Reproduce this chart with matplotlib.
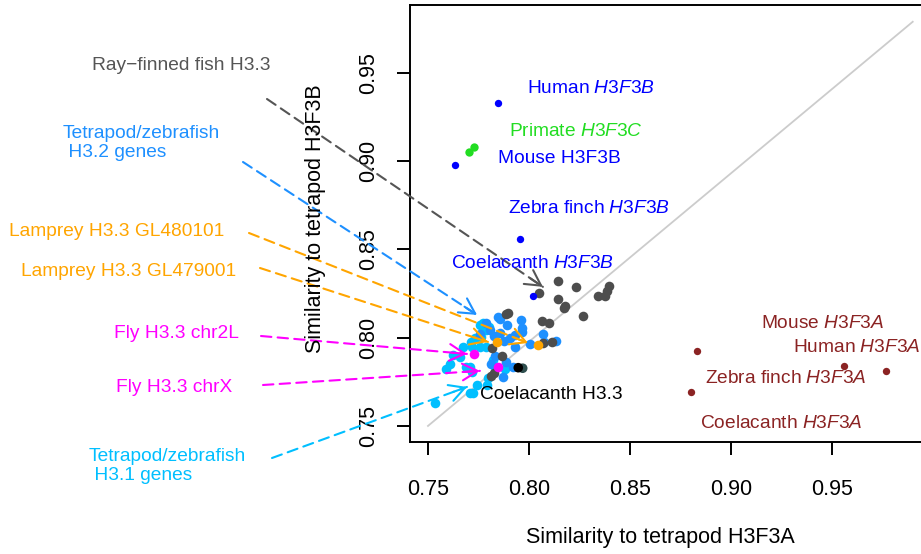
import numpy as np
import matplotlib
matplotlib.use("Agg")
import matplotlib.pyplot as plt

plt.rcParams['font.family'] = ['Liberation Sans', 'DejaVu Sans']
plt.rcParams['mathtext.fontset'] = 'custom'
plt.rcParams['mathtext.rm'] = 'Liberation Sans'
plt.rcParams['mathtext.it'] = 'Liberation Sans:italic'

# ---------------- data ----------------
# Tetrapod/zebrafish H3.1 genes (deepskyblue)
h31_x = [0.7774, 0.7787, 0.7761, 0.7733, 0.7711, 0.7675, 0.7716, 0.7757, 0.7787,
         0.7625, 0.7609, 0.7589, 0.7658, 0.7688, 0.7708, 0.7716, 0.7744, 0.7799,
         0.7791, 0.7708, 0.7724, 0.7535, 0.7832, 0.7881, 0.7823, 0.7800, 0.7760]
h31_y = [0.8082, 0.8044, 0.8006, 0.7997, 0.7978, 0.7950, 0.7946, 0.7950, 0.7946,
         0.7903, 0.7852, 0.7822, 0.7893, 0.7836, 0.7836, 0.7808, 0.7732, 0.7770,
         0.7732, 0.7685, 0.7685, 0.7632, 0.7836, 0.7821, 0.7874, 0.8060, 0.8070]
# Tetrapod/zebrafish H3.2 genes (dodgerblue)
h32_x = [0.7845, 0.7856, 0.7890, 0.7959, 0.7964, 0.7931, 0.7906, 0.7931, 0.8005,
         0.8071, 0.8074, 0.8134, 0.7787, 0.7807, 0.7856, 0.7876, 0.7757, 0.7828,
         0.7922, 0.7810, 0.7832, 0.7886, 0.7873, 0.7964]
h32_y = [0.8120, 0.8105, 0.8073, 0.8101, 0.8035, 0.8016, 0.7997, 0.7950, 0.7965,
         0.8022, 0.7978, 0.7982, 0.8082, 0.8044, 0.8026, 0.7984, 0.8022, 0.8010,
         0.7836, 0.7851, 0.7897, 0.7865, 0.7780, 0.8054]
# Ray-finned fish H3.3 (dark gray)
fish_x = [0.8050, 0.8142, 0.8233, 0.8142, 0.8178, 0.8174, 0.8266, 0.8343, 0.8376,
          0.8385, 0.8398, 0.8066, 0.8101, 0.7886, 0.7898, 0.8116, 0.8071, 0.7815,
          0.7868, 0.7828, 0.7812]
fish_y = [0.8252, 0.8322, 0.8290, 0.8220, 0.8180, 0.8167, 0.8125, 0.8238, 0.8238,
          0.8267, 0.8295, 0.8097, 0.8085, 0.8135, 0.8140, 0.7974, 0.7972, 0.7944,
          0.7897, 0.7802, 0.7783]
# Lamprey H3.3 (orange)
lamprey_x = [0.7843, 0.8043]
lamprey_y = [0.7974, 0.7959]
# Fly H3.3 (magenta)
fly_x = [0.7729, 0.7848]
fly_y = [0.7906, 0.7833]
# Coelacanth H3.3 (black) and neighbour (dark slate)
coel33_x = [0.7969, 0.7947]
coel33_y = [0.7827, 0.7830]
coel33_c = ['#2F4F4F', 'black']
# H3F3B (blue): Human, Mouse, Zebra finch, Coelacanth
h3f3b_x = [0.7847, 0.7634, 0.7955, 0.8020]
h3f3b_y = [0.9330, 0.8979, 0.8560, 0.8237]
# Primate H3F3C (green)
h3f3c_x = [0.7703, 0.7728]
h3f3c_y = [0.9052, 0.9081]
# H3F3A (dark red): Mouse, Human, Zebra finch, Coelacanth
h3f3a_x = [0.8832, 0.9560, 0.9770, 0.8800]
h3f3a_y = [0.7925, 0.7840, 0.7810, 0.7690]

# reference line
ref_x = [0.75, 0.99]
ref_y = [0.75, 0.979]

# in-plot labels (left x, centre y in data units)
in_labels = [r"Human $\mathit{H3F3B}$", r"Primate $\mathit{H3F3C}$", "Mouse H3F3B",
             r"Zebra finch $\mathit{H3F3B}$", r"Coelacanth $\mathit{H3F3B}$",
             "Coelacanth H3.3", r"Mouse $\mathit{H3F3A}$", r"Human $\mathit{H3F3A}$",
             r"Zebra finch $\mathit{H3F3A}$", r"Coelacanth $\mathit{H3F3A}$"]
in_label_x = [0.7990, 0.7900, 0.7847, 0.7896, 0.7614, 0.7757, 0.9149, 0.9307, 0.8871, 0.8847]
in_label_y = [0.9410, 0.9170, 0.9013, 0.8730, 0.8418, 0.7680, 0.8078, 0.7942, 0.7766, 0.7511]

# side labels with arrows (text in figure pixels, arrow tip in data units)
side_labels = ["Ray\u2212finned fish H3.3", "Tetrapod/zebrafish\n H3.2 genes",
               "Lamprey H3.3 GL480101", "Lamprey H3.3 GL479001",
               "Fly H3.3 chr2L", "Fly H3.3 chrX", "Tetrapod/zebrafish\n H3.1 genes"]
side_tip_x = [0.8069, 0.7743, 0.7995, 0.7797, 0.7693, 0.7757, 0.7693]
side_tip_y = [0.8288, 0.8129, 0.7970, 0.7976, 0.7908, 0.7812, 0.7721]

C_GRAY = '#4D4D4D'
C_H32 = '#1E90FF'
C_H31 = '#00BFFF'
C_ORANGE = '#FFA500'
C_MAG = '#FF00FF'
C_BLUE = '#0000FF'
C_GREEN = '#22DD22'
C_RED = '#8B2323'

W, H = 921, 554
fig = plt.figure(figsize=(W / 100, H / 100), dpi=100)
ax = fig.add_axes([410 / W, 1 - 442 / H, (W - 410) / W, (442 - 5) / H])
ax.set_xlim(0.7411, 0.9941)
ax.set_ylim(0.7409, 0.9885)

ax.plot(ref_x, ref_y, color='#CCCCCC', lw=1.3, zorder=1)

big = 48
ax.scatter(h31_x, h31_y, s=big, color=C_H31, lw=0, zorder=2)
ax.scatter(h32_x, h32_y, s=big, color=C_H32, lw=0, zorder=3)
ax.scatter(fish_x, fish_y, s=big, color=C_GRAY, lw=0, zorder=4)
ax.scatter(lamprey_x, lamprey_y, s=big, color=C_ORANGE, lw=0, zorder=5)
ax.scatter(fly_x, fly_y, s=big, color=C_MAG, lw=0, zorder=5)
ax.scatter(coel33_x, coel33_y, s=big, color=coel33_c, lw=0, zorder=5)
ax.scatter(h3f3b_x, h3f3b_y, s=28, color=C_BLUE, lw=0, zorder=5)
ax.scatter(h3f3c_x, h3f3c_y, s=36, color=C_GREEN, lw=0, zorder=5)
ax.scatter(h3f3a_x, h3f3a_y, s=28, color=C_RED, lw=0, zorder=5)

in_colors = [C_BLUE, C_GREEN, C_BLUE, C_BLUE, C_BLUE, 'black', C_RED, C_RED, C_RED, C_RED]
for t, x, y, c in zip(in_labels, in_label_x, in_label_y, in_colors):
    ax.text(x, y, t, color=c, fontsize=13.8, ha='left', va='center', zorder=7)

# side labels: (left px, centre px from top)
side_text_px = [(92, 66), (63, 143), (9, 232), (21, 272), (114, 333), (116, 388), (89, 466)]
side_start_px = [(267, 99), (243, 162), (249, 233), (260, 268), (261, 336), (263, 385), (272, 458)]
side_colors = ['#555555', C_H32, C_ORANGE, C_ORANGE, C_MAG, C_MAG, C_H31]

for t, (tx, ty), c in zip(side_labels, side_text_px, side_colors):
    fig.text(tx / W, 1 - ty / H, t, color=c, fontsize=13.8, ha='left', va='center',
             linespacing=1.15)

fig.canvas.draw()
for (sx, sy), x, y, c in zip(side_start_px, side_tip_x, side_tip_y, side_colors):
    start = np.array([sx, H - sy], dtype=float)
    tip = ax.transData.transform((x, y))
    ax.annotate('', xy=(x, y), xycoords='data', xytext=tuple(start),
                textcoords='figure pixels', annotation_clip=False,
                arrowprops=dict(arrowstyle='-', color=c, lw=1.5, ls=(0, (5, 3)),
                                shrinkA=0, shrinkB=0), zorder=6)
    d = tip - start
    d = d / np.hypot(*d)
    back = -15 * d
    ax.annotate('', xy=(x, y), xycoords='data', xytext=(back[0], back[1]),
                textcoords='offset pixels', annotation_clip=False,
                arrowprops=dict(arrowstyle='->,head_length=0.55,head_width=0.3',
                                mutation_scale=20, color=c, lw=1.5,
                                shrinkA=0, shrinkB=0), zorder=6)

# axes styling
for side in ['left', 'top', 'bottom']:
    ax.spines[side].set_linewidth(1.4)
ax.spines['right'].set_visible(False)
ax.set_xticks([0.75, 0.80, 0.85, 0.90, 0.95])
ax.set_xticklabels(['0.75', '0.80', '0.85', '0.90', '0.95'])
ax.set_yticks([0.75, 0.80, 0.85, 0.90, 0.95])
ax.set_yticklabels(['0.75', '0.80', '0.85', '0.90', '0.95'], rotation=90, va='center')
ax.tick_params(axis='both', length=9.5, width=1.4, labelsize=15.5, direction='out')
ax.tick_params(axis='x', pad=17)
ax.tick_params(axis='y', pad=13)

fig.text(660 / W, 1 - 537 / H, 'Similarity to tetrapod H3F3A', fontsize=15.5,
         ha='center', va='center')
fig.text(316 / W, 1 - 219 / H, 'Similarity to tetrapod H3F3B', fontsize=15.5,
         ha='center', va='center', rotation=90)

fig.savefig('out.png', dpi=100)
